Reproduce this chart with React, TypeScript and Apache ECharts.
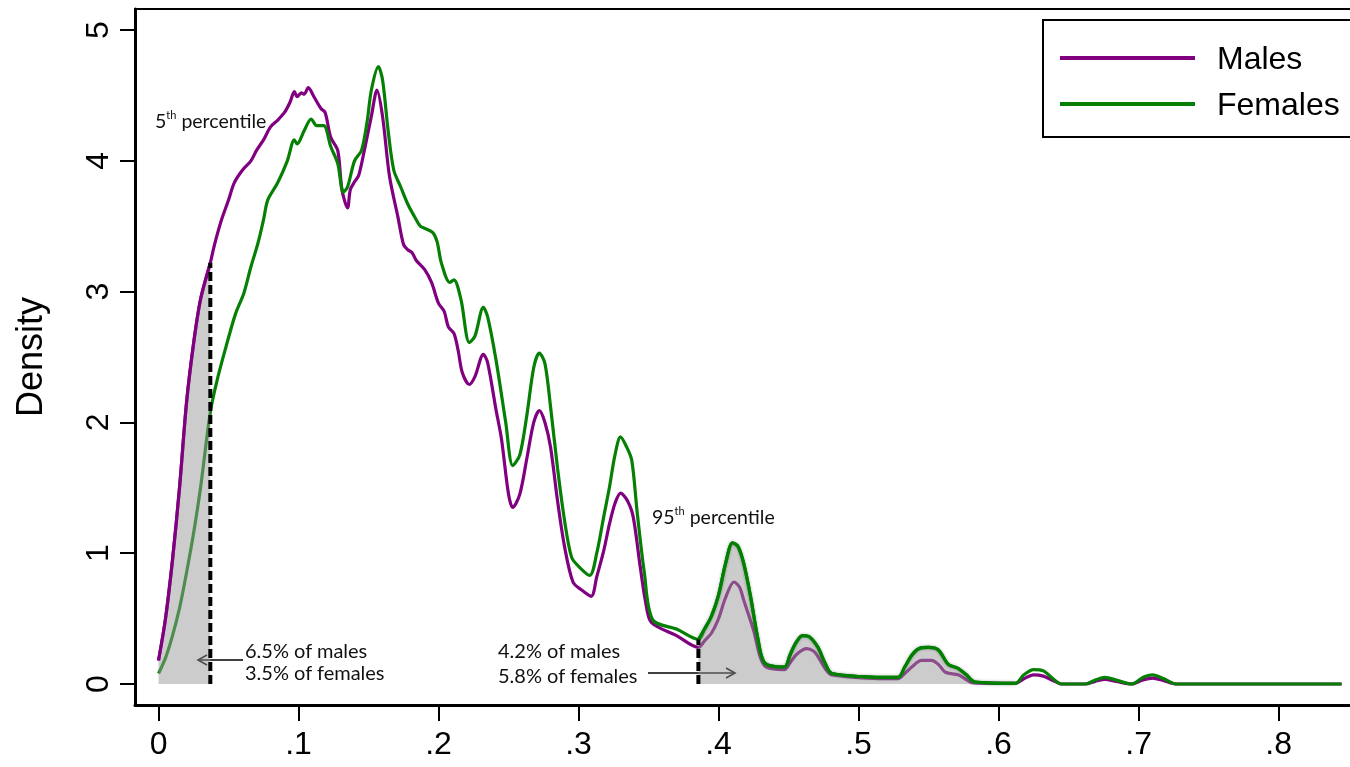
import React, { useEffect, useRef } from "react";
import * as echarts from "echarts";

// ---- data ----
const maleX = [
  0, 0.005, 0.01, 0.015, 0.02, 0.025, 0.03, 0.037, 0.04, 0.045, 0.05, 0.054, 0.06, 0.066, 0.07, 0.075,
  0.08, 0.085, 0.09, 0.094, 0.097, 0.099, 0.102, 0.104, 0.107, 0.111, 0.116, 0.119, 0.123, 0.128, 0.131,
  0.135, 0.137, 0.14, 0.143, 0.147, 0.152, 0.156, 0.16, 0.165, 0.171, 0.175, 0.178, 0.181, 0.184, 0.19,
  0.195, 0.2, 0.204, 0.207, 0.211, 0.214, 0.217, 0.222, 0.226, 0.232, 0.235, 0.241, 0.245, 0.25, 0.253,
  0.258, 0.263, 0.268, 0.272, 0.276, 0.28, 0.285, 0.29, 0.296, 0.302, 0.309, 0.313, 0.318, 0.322, 0.326,
  0.33, 0.335, 0.339, 0.344, 0.348, 0.352, 0.37, 0.3856, 0.39, 0.395, 0.4, 0.405, 0.411, 0.415, 0.418,
  0.425, 0.43, 0.434, 0.447, 0.451, 0.456, 0.463, 0.468, 0.471, 0.476, 0.481, 0.528, 0.533, 0.538, 0.545,
  0.552, 0.557, 0.562, 0.571, 0.576, 0.581, 0.612, 0.618, 0.625, 0.632, 0.64, 0.645, 0.662, 0.669, 0.676,
  0.684, 0.695, 0.703, 0.71, 0.718, 0.727, 0.845,
];
const maleY = [
  0.18, 0.5, 0.95, 1.5, 2.15, 2.6, 2.94, 3.22, 3.36, 3.55, 3.7, 3.83, 3.93, 4.0, 4.08, 4.16,
  4.26, 4.31, 4.37, 4.45, 4.53, 4.49, 4.52, 4.51, 4.56, 4.49, 4.4, 4.37, 4.18, 4.08, 3.78,
  3.64, 3.78, 3.84, 3.89, 4.08, 4.34, 4.54, 4.34, 3.88, 3.57, 3.36, 3.32, 3.3, 3.24, 3.17,
  3.07, 2.91, 2.85, 2.73, 2.68, 2.55, 2.38, 2.29, 2.35, 2.52, 2.46, 2.1, 1.87, 1.45, 1.35,
  1.45, 1.72, 2.0, 2.09, 2.0, 1.81, 1.4, 1.05, 0.78, 0.72, 0.67, 0.82, 1.02, 1.22, 1.38,
  1.46, 1.4, 1.28, 0.9, 0.62, 0.47, 0.37, 0.28, 0.33, 0.39, 0.5, 0.66, 0.78, 0.74, 0.64,
  0.41, 0.2, 0.13, 0.11, 0.16, 0.23, 0.27, 0.25, 0.21, 0.12, 0.07, 0.04, 0.08, 0.13, 0.18,
  0.18, 0.15, 0.09, 0.07, 0.04, 0.01, 0.005, 0.04, 0.07, 0.06, 0.02, 0.0, 0.0, 0.02, 0.035,
  0.02, 0.0, 0.03, 0.045, 0.025, 0.0, 0.0,
];
const femaleX = [
  0, 0.005, 0.01, 0.015, 0.02, 0.025, 0.03, 0.037, 0.042, 0.049, 0.055, 0.061, 0.066, 0.071, 0.075, 0.078,
  0.085, 0.092, 0.097, 0.099, 0.104, 0.109, 0.113, 0.118, 0.123, 0.128, 0.132, 0.135, 0.14, 0.145, 0.149,
  0.152, 0.157, 0.16, 0.164, 0.168, 0.173, 0.178, 0.183, 0.187, 0.191, 0.196, 0.199, 0.202, 0.208, 0.211,
  0.216, 0.222, 0.226, 0.232, 0.235, 0.241, 0.248, 0.253, 0.258, 0.263, 0.268, 0.272, 0.276, 0.28, 0.285,
  0.29, 0.295, 0.3, 0.308, 0.313, 0.318, 0.322, 0.326, 0.33, 0.334, 0.338, 0.342, 0.347, 0.353, 0.37,
  0.3856, 0.39, 0.395, 0.4, 0.405, 0.41, 0.414, 0.418, 0.423, 0.428, 0.433, 0.447, 0.451, 0.455, 0.46,
  0.465, 0.471, 0.476, 0.481, 0.528, 0.533, 0.538, 0.543, 0.55, 0.557, 0.564, 0.571, 0.577, 0.583, 0.612,
  0.618, 0.625, 0.632, 0.64, 0.645, 0.662, 0.669, 0.676, 0.684, 0.695, 0.703, 0.71, 0.718, 0.727, 0.845,
];
const femaleY = [
  0.08, 0.2, 0.37, 0.58, 0.85, 1.15, 1.5, 2.08, 2.33, 2.61, 2.83, 2.99, 3.19, 3.37, 3.55, 3.7,
  3.83, 4.0, 4.16, 4.13, 4.23, 4.32, 4.27, 4.27, 4.11, 3.98, 3.76, 3.8, 4.0, 4.08, 4.3,
  4.54, 4.72, 4.62, 4.23, 3.93, 3.8, 3.67, 3.57, 3.5, 3.48, 3.45, 3.38, 3.22, 3.07, 3.09,
  2.94, 2.61, 2.66, 2.88, 2.81, 2.48, 2.0, 1.67, 1.75, 2.05, 2.42, 2.53, 2.45, 2.12, 1.65,
  1.25, 0.97, 0.9, 0.83, 1.0, 1.28, 1.5, 1.75, 1.89, 1.82, 1.71, 1.3, 0.85, 0.49, 0.42,
  0.34, 0.42, 0.52, 0.68, 0.92, 1.08, 1.05, 0.92, 0.66, 0.35, 0.16, 0.13, 0.22, 0.31, 0.37,
  0.36, 0.28, 0.16, 0.08, 0.05, 0.13, 0.22, 0.27, 0.28, 0.26, 0.15, 0.12, 0.07, 0.015, 0.005,
  0.07, 0.11, 0.1, 0.03, 0.0, 0.0, 0.03, 0.05, 0.03, 0.0, 0.05, 0.07, 0.04, 0.0, 0.0,
];
const p5 = 0.037;
const p95 = 0.3856;
const shadeEnd = 0.612;
const xTicks = [0, 0.1, 0.2, 0.3, 0.4, 0.5, 0.6, 0.7, 0.8];
const yTicks = [0, 1, 2, 3, 4, 5];
const seriesNames = ["Males", "Females"];
const noteLow = ["6.5% of males", "3.5% of females"];
const noteHigh = ["4.2% of males", "5.8% of females"];

const AXF = '"Liberation Sans Narrow", "Arial Narrow", "Liberation Sans", Arial, sans-serif';
const ANN = 'Lato, "Noto Sans", sans-serif';
const PURPLE = "#800080";
const GREEN = "#058005";

export default function App() {
  const ref = useRef<HTMLDivElement>(null);
  useEffect(() => {
    if (!ref.current) return;
    const chart = echarts.init(ref.current, null, { renderer: "svg" });
    const male = maleX.map((x, i) => [x, maleY[i]]);
    const female = femaleX.map((x, i) => [x, femaleY[i]]);
    const shade5 = male.filter((p) => p[0] <= p5);
    const shade95 = female.filter((p) => p[0] >= p95 && p[0] <= shadeEnd);
    const mAt5 = maleY[maleX.indexOf(p5)];
    const fAt95 = femaleY[femaleX.indexOf(p95)];

    const sup = (n: string) => ({
      type: "text",
      style: {
        text: `{n|${n}}{s|th}{n| percentile}`,
        rich: {
          n: { fontSize: 19.5, fontFamily: ANN, fill: "#111", lineHeight: 22 },
          s: { fontSize: 11, fontFamily: ANN, fill: "#111", lineHeight: 22, verticalAlign: "top" },
        },
        verticalAlign: "middle",
      },
    });
    const note = (t: string, x: number, y: number) => ({
      type: "text",
      x,
      y,
      style: { text: t, fontSize: 20, fontFamily: ANN, fill: "#111", verticalAlign: "middle" },
    });

    chart.setOption({
      animation: false,
      grid: { left: 135, right: 0, top: 9, bottom: 62 },
      xAxis: [
        {
          type: "value",
          min: -0.0168,
          max: 0.851,
          position: "bottom",
          splitLine: { show: false },
          axisLine: { show: true, onZero: false, lineStyle: { color: "#000", width: 3 } },
          axisTick: { show: true, length: 16, customValues: xTicks, lineStyle: { color: "#000", width: 2 } },
          axisLabel: {
            customValues: xTicks,
            margin: 22,
            fontSize: 32,
            fontFamily: AXF,
            color: "#000",
            formatter: (v: number) => (v === 0 ? "0" : String(+v.toFixed(1)).replace(/^0/, "")),
          },
        },
        {
          type: "value",
          min: -0.0168,
          max: 0.851,
          position: "top",
          splitLine: { show: false },
          axisLine: { show: true, onZero: false, lineStyle: { color: "#000", width: 2 } },
          axisTick: { show: false },
          axisLabel: { show: false },
        },
      ],
      yAxis: {
        type: "value",
        min: -0.1606,
        max: 5.161,
        splitLine: { show: false },
        name: "Density",
        nameLocation: "middle",
        nameRotate: 90,
        nameGap: 88,
        nameTextStyle: { fontSize: 36, fontFamily: AXF, color: "#000" },
        axisLine: { show: true, onZero: false, lineStyle: { color: "#000", width: 3 } },
        axisTick: { show: true, length: 15, customValues: yTicks, lineStyle: { color: "#000", width: 2 } },
        axisLabel: {
          customValues: yTicks,
          rotate: 90,
          margin: 22,
          fontSize: 32,
          fontFamily: AXF,
          color: "#000",
        },
      },
      legend: {
        data: seriesNames,
        orient: "vertical",
        left: 1043,
        top: 20,
        padding: [22, 22, 17, 17],
        itemWidth: 135,
        itemHeight: 4,
        itemGap: 14,
        icon: "rect",
        borderColor: "#000",
        borderWidth: 2,
        textStyle: { fontSize: 32, lineHeight: 32, fontFamily: AXF, color: "#000", padding: [0, 0, 0, 17] },
      },
      series: [
        {
          name: seriesNames[0],
          type: "line",
          data: male,
          smooth: 0.3,
          showSymbol: false,
          z: 2,
          color: PURPLE,
          lineStyle: { color: PURPLE, width: 3.2 },
        },
        {
          name: seriesNames[1],
          type: "line",
          data: female,
          smooth: 0.3,
          showSymbol: false,
          z: 2,
          color: GREEN,
          lineStyle: { color: GREEN, width: 3.2 },
        },
        {
          name: "shade5",
          type: "line",
          data: shade5,
          smooth: 0.3,
          showSymbol: false,
          z: 3,
          lineStyle: { color: PURPLE, width: 3.2 },
          areaStyle: { color: "#999999", opacity: 0.5 },
        },
        {
          name: "shade95",
          type: "line",
          data: shade95,
          smooth: 0.3,
          showSymbol: false,
          z: 3,
          lineStyle: { color: GREEN, width: 3.2, shadowBlur: 3, shadowColor: "rgba(0,0,0,0.35)" },
          areaStyle: { color: "#999999", opacity: 0.5 },
        },
        {
          name: "dash5",
          type: "line",
          data: [
            [p5, 0],
            [p5, mAt5],
          ],
          showSymbol: false,
          z: 4,
          lineStyle: { color: "#000", width: 4, type: [9, 4] },
        },
        {
          name: "dash95",
          type: "line",
          data: [
            [p95, 0],
            [p95, fAt95],
          ],
          showSymbol: false,
          z: 4,
          lineStyle: { color: "#000", width: 4, type: [9, 4] },
        },
      ],
      graphic: [
        { ...sup("5"), x: 155, y: 120 },
        { ...sup("95"), x: 652, y: 516 },
        note(noteLow[0], 245, 650),
        note(noteLow[1], 245, 672),
        note(noteHigh[0], 498, 650),
        note(noteHigh[1], 498, 675),
        { type: "line", shape: { x1: 243, y1: 660, x2: 198, y2: 660 }, style: { stroke: "#000", lineWidth: 1.6 } },
        {
          type: "polyline",
          shape: { points: [[207, 655], [198, 660], [207, 665]] },
          style: { stroke: "#000", lineWidth: 1.6, fill: "none" },
        },
        { type: "line", shape: { x1: 648, y1: 673, x2: 735, y2: 673 }, style: { stroke: "#000", lineWidth: 1.6 } },
        {
          type: "polyline",
          shape: { points: [[726, 668], [735, 673], [726, 678]] },
          style: { stroke: "#000", lineWidth: 1.6, fill: "none" },
        },
      ],
    });
    return () => chart.dispose();
  }, []);
  return <div ref={ref} style={{ position: "fixed", left: 0, top: 0, width: 1350, height: 767 }} />;
}
